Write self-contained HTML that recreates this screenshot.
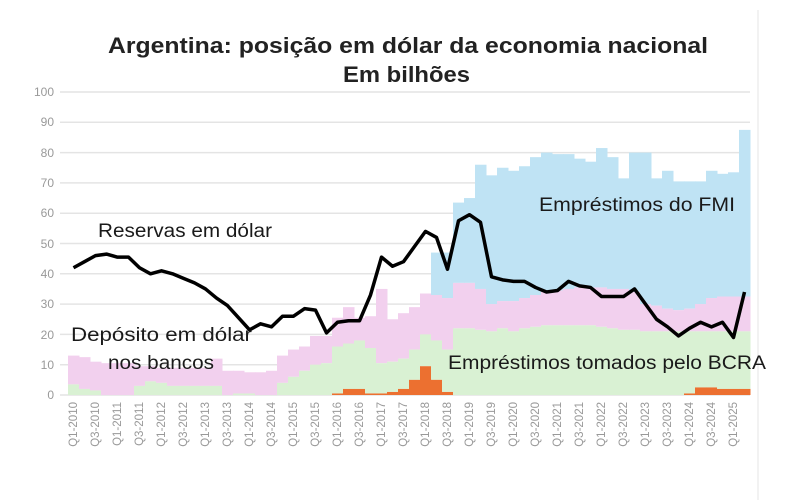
<!DOCTYPE html>
<html><head><meta charset="utf-8"><style>
body{margin:0;background:#fff;}
svg{display:block;font-family:"Liberation Sans",sans-serif;}
</style></head><body>
<svg id="s" width="800" height="500" viewBox="0 0 800 500" xmlns="http://www.w3.org/2000/svg">
<rect x="0" y="0" width="800" height="500" fill="#fff"/>
<line x1="758" y1="10" x2="758" y2="500" stroke="#e6e6e6"/>
<g id="grid" stroke="#e4e4e4" stroke-width="1.5"></g>
<g id="bars"></g>
<polyline id="line" fill="none" stroke="#000" stroke-width="3.5" stroke-linejoin="round"/>
<g font-size="22" font-weight="bold" fill="#222">
<text x="108" y="53" textLength="600" lengthAdjust="spacingAndGlyphs">Argentina: posição em dólar da economia nacional</text>
<text x="343" y="82" textLength="127" lengthAdjust="spacingAndGlyphs">Em bilhões</text>
</g>
<g font-size="12" fill="#999" text-anchor="end">
<text x="54" y="399">0</text><text x="54" y="369">10</text><text x="54" y="339">20</text><text x="54" y="308">30</text><text x="54" y="278">40</text><text x="54" y="248">50</text><text x="54" y="217">60</text><text x="54" y="187">70</text><text x="54" y="157">80</text><text x="54" y="126">90</text><text x="54" y="96">100</text>
</g>
<g font-size="11.5" fill="#999" text-anchor="end" id="xl">
<text transform="translate(77,402) rotate(-90)">Q1-2010</text>
<text transform="translate(99,402) rotate(-90)">Q3-2010</text>
<text transform="translate(121,402) rotate(-90)">Q1-2011</text>
<text transform="translate(143,402) rotate(-90)">Q3-2011</text>
<text transform="translate(165,402) rotate(-90)">Q1-2012</text>
<text transform="translate(187,402) rotate(-90)">Q3-2012</text>
<text transform="translate(209,402) rotate(-90)">Q1-2013</text>
<text transform="translate(231,402) rotate(-90)">Q3-2013</text>
<text transform="translate(253,402) rotate(-90)">Q1-2014</text>
<text transform="translate(275,402) rotate(-90)">Q3-2014</text>
<text transform="translate(297,402) rotate(-90)">Q1-2015</text>
<text transform="translate(319,402) rotate(-90)">Q3-2015</text>
<text transform="translate(341,402) rotate(-90)">Q1-2016</text>
<text transform="translate(363,402) rotate(-90)">Q3-2016</text>
<text transform="translate(385,402) rotate(-90)">Q1-2017</text>
<text transform="translate(407,402) rotate(-90)">Q3-2017</text>
<text transform="translate(429,402) rotate(-90)">Q1-2018</text>
<text transform="translate(451,402) rotate(-90)">Q3-2018</text>
<text transform="translate(473,402) rotate(-90)">Q1-2019</text>
<text transform="translate(495,402) rotate(-90)">Q3-2019</text>
<text transform="translate(517,402) rotate(-90)">Q1-2020</text>
<text transform="translate(539,402) rotate(-90)">Q3-2020</text>
<text transform="translate(561,402) rotate(-90)">Q1-2021</text>
<text transform="translate(583,402) rotate(-90)">Q3-2021</text>
<text transform="translate(605,402) rotate(-90)">Q1-2022</text>
<text transform="translate(627,402) rotate(-90)">Q3-2022</text>
<text transform="translate(649,402) rotate(-90)">Q1-2023</text>
<text transform="translate(671,402) rotate(-90)">Q3-2023</text>
<text transform="translate(693,402) rotate(-90)">Q1-2024</text>
<text transform="translate(715,402) rotate(-90)">Q3-2024</text>
<text transform="translate(737,402) rotate(-90)">Q1-2025</text>
</g>
<g font-size="19" fill="#1a1a1a" lengthAdjust="spacingAndGlyphs">
<text x="98" y="237" textLength="174" lengthAdjust="spacingAndGlyphs">Reservas em dólar</text>
<text x="71" y="341" textLength="181" lengthAdjust="spacingAndGlyphs">Depósito em dólar</text>
<text x="108" y="369" textLength="106" lengthAdjust="spacingAndGlyphs">nos bancos</text>
<text x="539" y="211" textLength="196" lengthAdjust="spacingAndGlyphs">Empréstimos do FMI</text>
<text x="448" y="369" textLength="318" lengthAdjust="spacingAndGlyphs">Empréstimos tomados pelo BCRA</text>
</g>
</svg>
<script>
var Y=function(v){return 395-v*3.03;};
var X0=68,W=11;
var line=[42,44,46,46.5,45.5,45.5,42,40,41,40,38.5,37,35,32,29.5,25.5,21.5,23.5,22.5,26,26,28.5,28,20.5,24,24.5,24.5,33,45.5,42.5,44,49,54,52,41.5,57.5,59.5,57,39,38,37.5,37.5,35.5,34,34.5,37.5,36,35.5,32.5,32.5,32.5,35,30,25,22.5,19.5,22,24,22.5,24,19,34];
var orange=new Array(62).fill(0);
var ov={24:0.5,25:2,26:2,27:0.5,28:0.5,29:1,30:2,31:5,32:9.5,33:5,34:1,56:0.5,57:2.5,58:2.5,59:2,60:2,61:2};
for(var k in ov)orange[k]=ov[k];
var green=[3.5,2,1.5,0,0,0,3,4.5,4,3,3,3,3,3,0,0.5,0.5,0,0,4,6,8,10,10.5,16,17,18,15.5,10.5,11,12,15,20,18,15,22,22,21.5,21,22,21,22,22.5,23,23,23,23,23,22.5,22,21.5,21.5,21,21,21,21,21,21,21,21,21,21];
var pink=[13,12.5,11,10.5,10.5,10.5,9.5,9.5,9,9,9,9,9,12,8,8,7.5,7.5,8,13,15,16,19.5,19.5,25.5,29,25.5,26,35,25,27,29,33.5,33,32,37,37,35,30,31,31,32,33,34,34.5,35,35.5,35.5,35.5,35,35,34,30,29.5,28.5,28,28.5,30,32,32.5,32.5,32.5];
var blue=new Array(62).fill(0);
blue[33]=47;blue[34]=47;
[63.5,65,76,72.5,75,74,75.5,78.5,80,79.5,79.5,78,77,81.5,78.5,71.5,80,80,71.5,74,70.5,70.5,70.5,74,73,73.5,87.5].forEach(function(v,i){blue[35+i]=v;});
var ns="http://www.w3.org/2000/svg";
var g=document.getElementById('grid');
for(var v=0;v<=100;v+=10){var l=document.createElementNS(ns,'line');l.setAttribute('x1',60);l.setAttribute('x2',750);l.setAttribute('y1',Y(v));l.setAttribute('y2',Y(v));g.appendChild(l);}
var b=document.getElementById('bars');
function r(i,lo,hi,c){if(hi<=lo)return;var e=document.createElementNS(ns,'rect');e.setAttribute('x',X0+i*W);e.setAttribute('width',W+0.5);e.setAttribute('y',Y(hi));e.setAttribute('height',Y(lo)-Y(hi));e.setAttribute('fill',c);b.appendChild(e);}
for(var i=0;i<62;i++){
 r(i,pink[i],blue[i],'#bfe3f4');
 r(i,green[i],pink[i],'#f2d0ee');
 r(i,orange[i],green[i],'#d9f1d3');
 r(i,0,orange[i],'#ec7030');
}
var pts=line.map(function(v,i){return (X0+i*W+5.5)+','+Y(v);}).join(' ');
document.getElementById('line').setAttribute('points',pts);
</script>
</body></html>
